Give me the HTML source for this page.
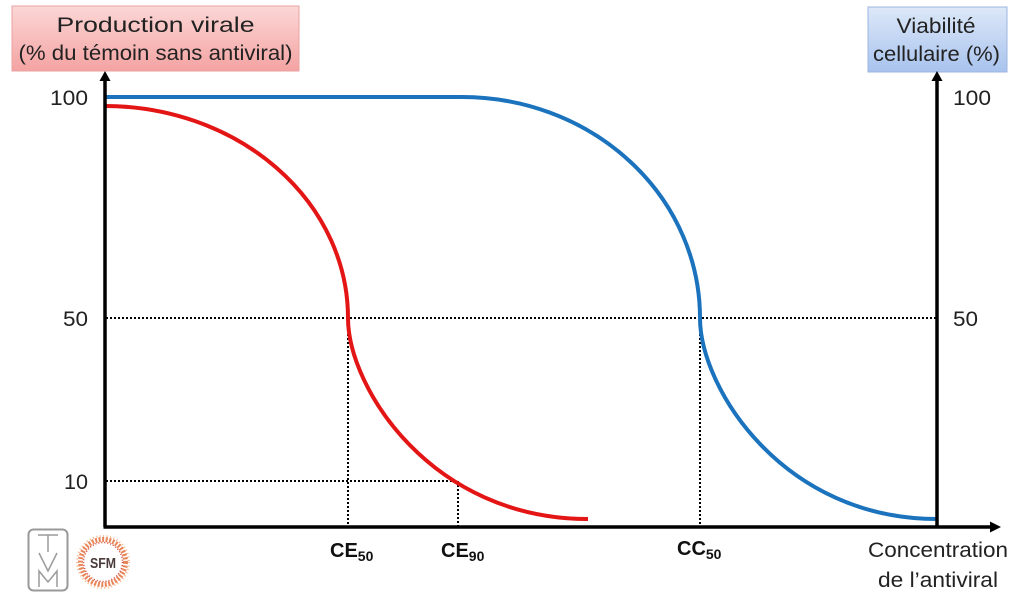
<!DOCTYPE html>
<html><head><meta charset="utf-8"><style>
html,body{margin:0;padding:0;background:#fff;}
svg{display:block;}
text{font-family:"Liberation Sans",sans-serif;}
</style></head><body>
<svg width="1024" height="609" viewBox="0 0 1024 609" xmlns="http://www.w3.org/2000/svg">
<defs>
<linearGradient id="pk" x1="0" y1="0" x2="0" y2="1">
<stop offset="0" stop-color="#fbd7d6"/><stop offset="1" stop-color="#f4a3a2"/>
</linearGradient>
<linearGradient id="bl" x1="0" y1="0" x2="0" y2="1">
<stop offset="0" stop-color="#dde8f8"/><stop offset="1" stop-color="#a8c3ee"/>
</linearGradient>
</defs>
<rect width="1024" height="609" fill="#fff"/>

<!-- Title boxes -->
<rect x="12" y="6" width="287" height="65" fill="url(#pk)" stroke="#e9a3a2" stroke-width="1"/>
<text x="155.5" y="32" font-size="21" text-anchor="middle" fill="#222" textLength="198" lengthAdjust="spacingAndGlyphs">Production virale</text>
<text x="155.5" y="60" font-size="21" text-anchor="middle" fill="#222" textLength="274" lengthAdjust="spacingAndGlyphs">(% du témoin sans antiviral)</text>

<rect x="868" y="7" width="139" height="65" fill="url(#bl)" stroke="#9bb6e0" stroke-width="1"/>
<text x="936" y="33" font-size="21" text-anchor="middle" fill="#222" textLength="79" lengthAdjust="spacingAndGlyphs">Viabilité</text>
<text x="936.5" y="61" font-size="21" text-anchor="middle" fill="#222" textLength="127" lengthAdjust="spacingAndGlyphs">cellulaire (%)</text>

<!-- Dotted guides -->
<g stroke="#000" stroke-width="2" stroke-dasharray="2,2" fill="none">
<line x1="106" y1="318" x2="937" y2="318"/>
<line x1="106" y1="481" x2="458" y2="481"/>
<line x1="348" y1="318" x2="348" y2="527"/>
<line x1="458" y1="481" x2="458" y2="527"/>
<line x1="700" y1="318" x2="700" y2="527"/>
</g>

<!-- Curves -->
<path d="M105,97 L462,97 A238,221 0 0 1 700,318 C700,388 783,519 937,519" fill="none" stroke="#1b72bd" stroke-width="4"/>
<path d="M105,106 A243,212 0 0 1 348,318 C348,388 432,519 588,519" fill="none" stroke="#e31515" stroke-width="4"/>

<!-- Axes -->
<g stroke="#000" stroke-width="3.5" fill="none">
<line x1="105" y1="80" x2="105" y2="527"/>
<line x1="937" y1="80" x2="937" y2="527"/>
<line x1="103.5" y1="527" x2="992" y2="527"/>
</g>
<polygon points="105,71 99.5,81 110.5,81" fill="#000"/>
<polygon points="937,71 931.5,81 942.5,81" fill="#000"/>
<polygon points="1001,527 990,521.5 990,532.5" fill="#000"/>

<!-- Tick labels -->
<g font-size="21" fill="#222">
<text x="88" y="105" text-anchor="end" textLength="38" lengthAdjust="spacingAndGlyphs">100</text>
<text x="88" y="326" text-anchor="end" textLength="25" lengthAdjust="spacingAndGlyphs">50</text>
<text x="88" y="489" text-anchor="end" textLength="24" lengthAdjust="spacingAndGlyphs">10</text>
<text x="953" y="105" textLength="38" lengthAdjust="spacingAndGlyphs">100</text>
<text x="953" y="326" textLength="25" lengthAdjust="spacingAndGlyphs">50</text>
</g>

<!-- X labels -->
<g fill="#111" font-weight="bold">
<text x="330" y="557" font-size="20">CE<tspan font-size="14" dy="4">50</tspan></text>
<text x="441" y="557" font-size="20">CE<tspan font-size="14" dy="4">90</tspan></text>
<text x="677" y="555" font-size="20">CC<tspan font-size="14" dy="4">50</tspan></text>
</g>
<text x="938" y="557" font-size="21" text-anchor="middle" fill="#222" textLength="140" lengthAdjust="spacingAndGlyphs">Concentration</text>
<text x="938" y="587" font-size="21" text-anchor="middle" fill="#222" textLength="120" lengthAdjust="spacingAndGlyphs">de l’antiviral</text>

<!-- Logos -->
<rect x="28.5" y="529.5" width="39" height="61" rx="5" fill="#fff" stroke="#999" stroke-width="2"/>
<g fill="none" stroke="#9a9a9a" stroke-width="1.5">
<path d="M38,535 H58 M48,535 V552"/>
<path d="M39,553 L48,571 L57,553"/>
<path d="M39,587 V571 L48,582 L57,571 V587"/>
</g>
<circle cx="103" cy="562" r="22.5" fill="none" stroke="#e8865a" stroke-width="5" stroke-dasharray="2,1.5"/>
<circle cx="103" cy="562" r="26" fill="none" stroke="#f2b58c" stroke-width="2" stroke-dasharray="1,2.5"/>
<circle cx="103" cy="562" r="19.5" fill="none" stroke="#d6463a" stroke-width="1.5" stroke-dasharray="1,2"/>
<circle cx="103" cy="562" r="18" fill="#fff"/>
<text x="103" y="568" font-size="15" font-weight="bold" text-anchor="middle" fill="#4a3a3a" textLength="26" lengthAdjust="spacingAndGlyphs">SFM</text>
</svg>
</body></html>
